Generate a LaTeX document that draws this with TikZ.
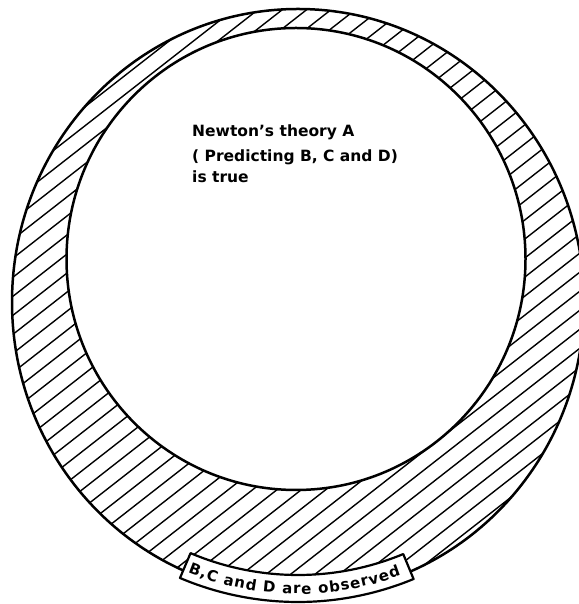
\documentclass[tikz,border=0pt]{standalone}
\usepackage{fontspec}
\setmainfont{DejaVu Sans}
\usetikzlibrary{decorations.text}
\begin{document}
\begin{tikzpicture}[x=1pt,y=1pt,
  ring/.style={line width=2.5pt},
  hatch/.style={line width=1.4pt},
  banner/.style={line width=2.2pt, fill=white, line join=round},
  lettering/.style={font=\fontsize{15.5}{18}\selectfont\bfseries, anchor=base west, inner sep=0pt}]
\useasboundingbox (0,0) rectangle (578,604);
\coordinate (oc) at (298,302);
\coordinate (ic) at (296,345);
\coordinate (bc) at (298,304);
% hatching of the ring
\begin{scope}
  \clip (oc) ellipse [x radius=286pt, y radius=293pt];
  \begin{scope}[shift={(298,302)}, rotate=38]
    \foreach \i in {-40,...,40} \draw[hatch] (-420,\i*15) -- (420,\i*15);
  \end{scope}
\end{scope}
% inner and outer boundaries
\draw[ring, fill=white] (ic) ellipse [x radius=229.5pt, y radius=231pt];
\draw[ring] (oc) ellipse [x radius=286pt, y radius=293pt];
% banner
\draw[banner] ([shift={(247:275pt)}]bc) arc[start angle=247, end angle=292.5, radius=275pt]
  -- ([shift={(292.5:302pt)}]bc) arc[start angle=292.5, end angle=247, radius=302pt] -- cycle;
\path[decorate, decoration={text along path, text align=fit to path,
  text={|\fontsize{15}{18}\selectfont\bfseries|B,C and D are observed}}]
  ([shift={(248:294pt)}]bc) arc[start angle=248, end angle=290.5, radius=294pt];
% statement
\node[lettering] (l1) at (192,467) {Newton's theory A};
\node[lettering] (l2) at (192,442) {( Predicting B, C and D)};
\node[lettering] (l3) at (192,421) {is true};
\end{tikzpicture}
\end{document}
